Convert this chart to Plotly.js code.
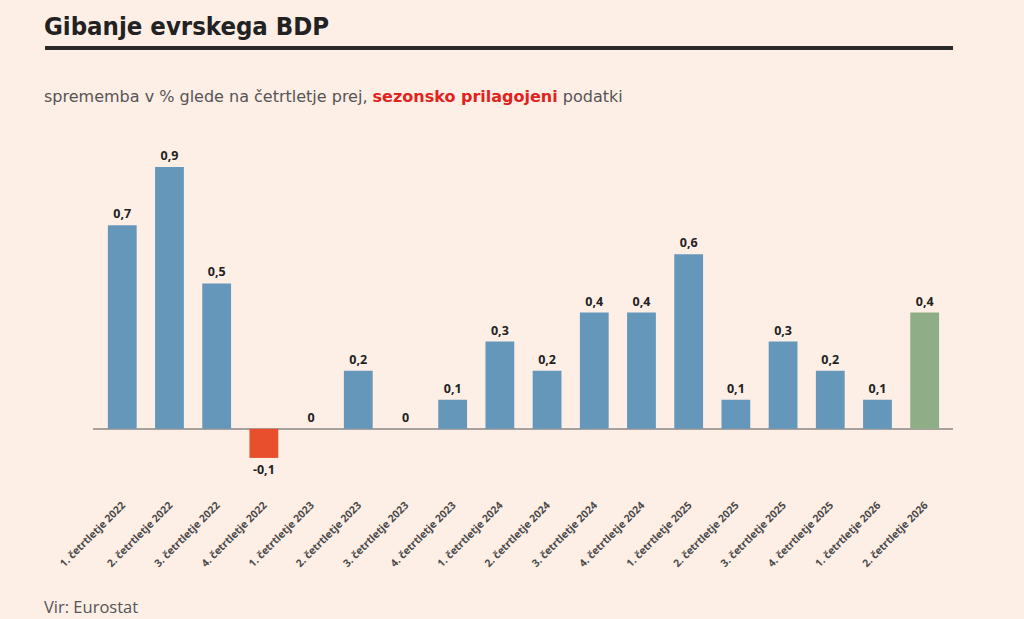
<!DOCTYPE html>
<html>
<head>
<meta charset="utf-8">
<script src="https://cdn.plot.ly/plotly-3.0.1.min.js"></script>
<style>
html,body{margin:0;padding:0;background:#fdeee6;}
#chart{width:1024px;height:619px;}
</style>
</head>
<body>
<div id="chart"></div>
<script>
const categories = [
  "1. četrtletje 2022","2. četrtletje 2022","3. četrtletje 2022","4. četrtletje 2022",
  "1. četrtletje 2023","2. četrtletje 2023","3. četrtletje 2023","4. četrtletje 2023",
  "1. četrtletje 2024","2. četrtletje 2024","3. četrtletje 2024","4. četrtletje 2024",
  "1. četrtletje 2025","2. četrtletje 2025","3. četrtletje 2025","4. četrtletje 2025",
  "1. četrtletje 2026","2. četrtletje 2026"
];
const values = [0.7, 0.9, 0.5, -0.1, 0, 0.2, 0, 0.1, 0.3, 0.2, 0.4, 0.4, 0.6, 0.1, 0.3, 0.2, 0.1, 0.4];

const BLUE = "#6597ba", RED = "#e84f2c", GREEN = "#8fad86";
const colors = values.map((v, i) => i === values.length - 1 ? GREEN : (v < 0 ? RED : BLUE));
const labels = values.map(v => String(v).replace(".", ","));

const W = 1024, H = 619;
const L = 45, R = 71, T = 138, B = 132;
const paperW = W - L - R, paperH = H - T - B;
const px = x => (x - L) / paperW;
const py = y => (H - B - y) / paperH;

const trace = {
  type: "bar",
  x: categories,
  y: values,
  marker: {color: colors, line: {width: 0}},
  text: labels,
  textposition: "outside",
  cliponaxis: false,
  textfont: {family: "Open Sans, sans-serif", size: 12.5, color: "#222", weight: "bold"},
  hoverinfo: "skip"
};

const layout = {
  width: W, height: H,
  paper_bgcolor: "#fdeee6",
  plot_bgcolor: "#fdeee6",
  margin: {l: L, r: R, t: T, b: B, pad: 0},
  showlegend: false,
  bargap: 0.39,
  xaxis: {
    type: "category",
    domain: [px(93), 1],
    range: [-0.62, 17.6],
    tickangle: -45,
    ticks: "",
    ticklabelstandoff: 9,
    showgrid: false,
    showline: false,
    zeroline: false,
    tickfont: {family: "Open Sans, sans-serif", size: 10.5, color: "#4a4a4a", weight: "bold"},
    automargin: false
  },
  yaxis: {
    range: [-0.2, 1.0],
    showgrid: false,
    showticklabels: false,
    ticks: "",
    zeroline: true,
    zerolinecolor: "#a7a19d",
    zerolinewidth: 2,
    showline: false
  },
  shapes: [{
    type: "line", xref: "paper", yref: "paper",
    x0: 0, x1: 1, y0: py(48), y1: py(48),
    line: {color: "#2b2b2b", width: 4}
  }],
  annotations: [
    {
      xref: "paper", yref: "paper", x: px(42), y: py(26), xanchor: "left", yanchor: "middle",
      text: "<b>Gibanje evrskega BDP</b>", showarrow: false,
      font: {family: "Liberation Sans Narrow, DejaVu Sans Condensed, sans-serif", size: 25.5, color: "#222"}
    },
    {
      xref: "paper", yref: "paper", x: px(42), y: py(96), xanchor: "left", yanchor: "middle",
      text: "sprememba v % glede na četrtletje prej, <b><span style=\"color:#e0231d\">sezonsko prilagojeni</span></b> podatki",
      showarrow: false,
      font: {family: "DejaVu Sans, sans-serif", size: 16, color: "#555"}
    },
    {
      xref: "paper", yref: "paper", x: px(42), y: py(606), xanchor: "left", yanchor: "middle",
      text: "Vir: Eurostat", showarrow: false,
      font: {family: "Open Sans, sans-serif", size: 16.5, color: "#555"}
    }
  ]
};

Plotly.newPlot("chart", [trace], layout, {displayModeBar: false, staticPlot: true});
</script>
</body>
</html>
